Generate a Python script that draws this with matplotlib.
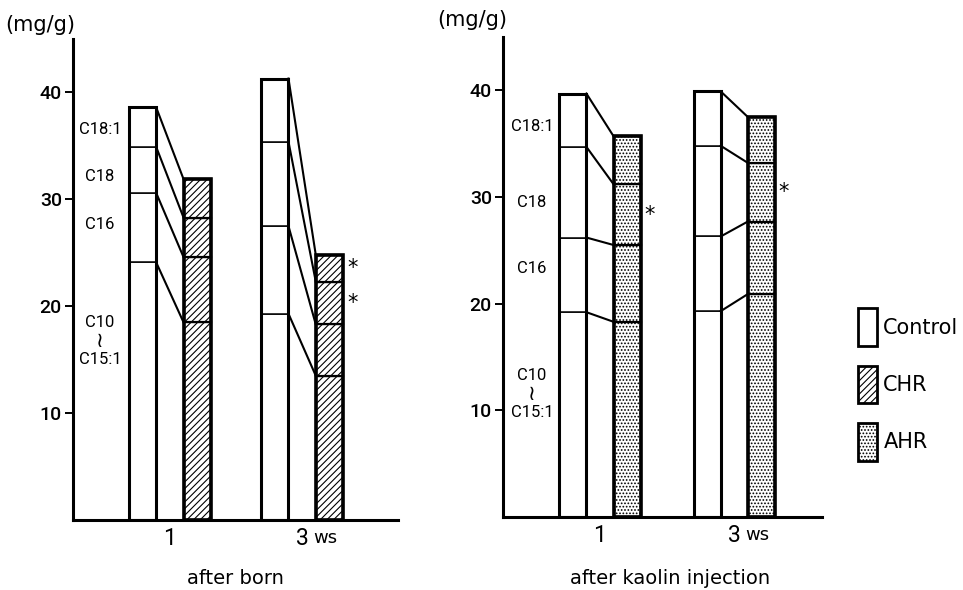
import numpy as np
import matplotlib.pyplot as plt
from matplotlib.patches import Patch

plt.rcParams['font.family'] = ['DejaVu Sans']
plt.rcParams['hatch.linewidth'] = 0.8

# segments, bottom -> top: C10~C15:1, C16, C18, C18:1  (mg/g)
weeks = ['1', '3']
born_control = [[24.1, 6.5, 4.3, 3.7], [19.3, 8.2, 7.9, 5.9]]
born_chr = [[18.5, 6.1, 3.7, 3.6], [13.5, 4.8, 4.0, 2.5]]
kaolin_control = [[19.2, 7.0, 8.5, 5.0], [19.3, 7.0, 8.5, 5.1]]
kaolin_ahr = [[18.3, 7.2, 5.7, 4.5], [20.9, 6.8, 5.5, 4.3]]

# significant segments (week index, segment index)
born_marks = [(1, 3), (1, 2)]
kaolin_marks = [(0, 2), (1, 2)]

narrow = ['Roboto', 'DejaVu Sans']


def draw_panel(ax, control, treated, hatch, marks, centers, w, lab_x, lab_y):
    for i, c in enumerate(centers):
        xc = c - w
        xt = c + w
        bc = np.concatenate([[0], np.cumsum(control[i])])
        bt = np.concatenate([[0], np.cumsum(treated[i])])
        ax.bar(xc, control[i], w, bottom=bc[:-1], color='white',
               edgecolor='black', lw=1.1, zorder=2)
        ax.bar(xt, treated[i], w, bottom=bt[:-1], color='white',
               edgecolor='black', lw=1.6, hatch=hatch, zorder=2)
        ax.bar(xc, bc[-1], w, fill=False, edgecolor='black', lw=2.2, zorder=3)
        ax.bar(xt, bt[-1], w, fill=False, edgecolor='black', lw=2.6, zorder=3)
        for k in range(1, len(bc)):
            ax.plot([xc + w / 2, xt - w / 2], [bc[k], bt[k]], color='black',
                    lw=1.5, zorder=3)
        for wk, seg in marks:
            if wk == i:
                ym = (bt[seg] + bt[seg + 1]) / 2
                ax.text(xt + w / 2 + 0.012, ym, '*', fontsize=15,
                        ha='left', va='center')

    ax.set_xlim(0, 1)
    ax.set_ylim(0, 45)
    ax.spines['top'].set_visible(False)
    ax.spines['right'].set_visible(False)
    ax.spines['left'].set_linewidth(2.2)
    ax.spines['bottom'].set_linewidth(2.2)
    ax.set_yticks([10, 20, 30, 40])
    ax.tick_params(axis='y', length=6, width=1.4, pad=2)
    for t in ax.get_yticklabels():
        t.set_fontfamily(narrow)
        t.set_fontsize(14)
        t.set_fontweight('medium')
    ax.set_xticks(centers)
    ax.set_xticklabels(weeks, fontsize=16.5, family=narrow)
    ax.tick_params(axis='x', length=0, pad=5)
    ax.text(centers[1] + 0.035, -0.048, 'ws', transform=ax.get_xaxis_transform(),
            ha='left', va='baseline', fontsize=13)

    # fatty acid names
    ax.text(lab_x, lab_y[3], 'C18:1', ha='center', va='center', fontsize=12, family=narrow)
    ax.text(lab_x, lab_y[2], 'C18', ha='center', va='center', fontsize=12, family=narrow)
    ax.text(lab_x, lab_y[1], 'C16', ha='center', va='center', fontsize=12, family=narrow)
    ax.text(lab_x, lab_y[0] + 1.8, 'C10', ha='center', va='center', fontsize=12, family=narrow)
    ax.text(lab_x, lab_y[0], '\u2240', ha='center', va='center', fontsize=15)
    ax.text(lab_x, lab_y[0] - 1.7, 'C15:1', ha='center', va='center', fontsize=12, family=narrow)


fig = plt.figure(figsize=(9.63, 5.90), dpi=100)
ax1 = fig.add_axes([73 / 963, 1 - 520 / 590, 325 / 963, 481 / 590])
ax2 = fig.add_axes([503 / 963, 1 - 517 / 590, 319 / 963, 480 / 590])

draw_panel(ax1, born_control, born_chr, '/////', born_marks, [0.298, 0.705], 0.084,
           0.083, [16.7, 27.6, 32.1, 36.5])
draw_panel(ax2, kaolin_control, kaolin_ahr, '.....', kaolin_marks, [0.304, 0.725], 0.085,
           0.091, [11.5, 23.3, 29.5, 36.6])

fig.text(235 / 963, 1 - 584 / 590, 'after born', ha='center', va='baseline', fontsize=14)
fig.text(670 / 963, 1 - 584 / 590, 'after kaolin injection', ha='center', va='baseline',
         fontsize=14)
fig.text(5 / 963, 1 - 25 / 590, '(mg/g)', ha='left', va='center', fontsize=15)
fig.text(437 / 963, 1 - 20 / 590, '(mg/g)', ha='left', va='center', fontsize=15)

handles = [Patch(facecolor='white', edgecolor='black', lw=2),
           Patch(facecolor='white', edgecolor='black', lw=2, hatch='/////'),
           Patch(facecolor='white', edgecolor='black', lw=2, hatch='.....')]
fig.legend(handles, ['Control', 'CHR', 'AHR'], loc='upper left',
           bbox_to_anchor=(850 / 963, 1 - 300 / 590), frameon=False,
           handlelength=0.9, handleheight=2.4, labelspacing=0.95,
           handletextpad=0.3, fontsize=15, borderaxespad=0)

fig.savefig('out.png', dpi=100)
